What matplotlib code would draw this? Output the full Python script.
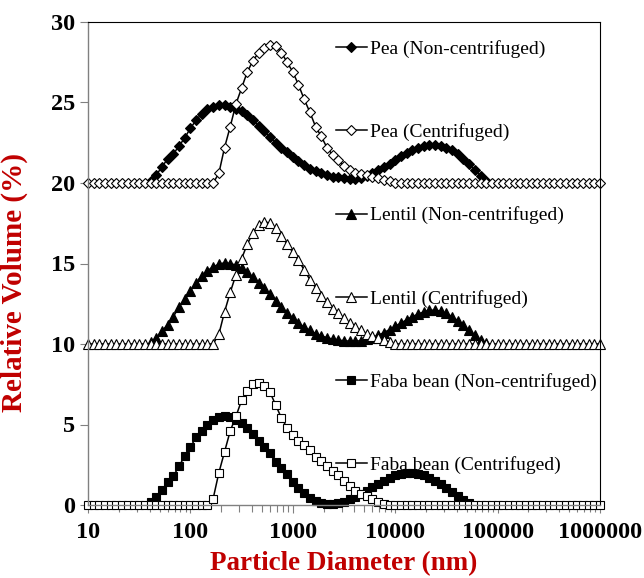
import numpy as np
import matplotlib
matplotlib.use("Agg")
from matplotlib import pyplot as plt

plt.rcParams['font.family'] = ['Liberation Serif', 'DejaVu Serif']

nan = np.nan

# Particle size bins (nm), log spaced from 10 nm to 1 mm
diameter_nm = np.logspace(1, 6, 91)

# Relative volume (%) per bin (before vertical offset)
pea_nc = [nan, nan, nan, nan, nan, nan, nan, nan, nan, nan,
          nan, 0.1, 0.5, 1.0, 1.5, 1.8, 2.3, 2.8, 3.4, 3.9,
          4.3, 4.6, 4.75, 4.85, 4.85, 4.75, 4.6, 4.45, 4.2, 3.9,
          3.55, 3.2, 2.85, 2.5, 2.2, 1.9, 1.6, 1.35, 1.1, 0.9,
          0.75, 0.6, 0.5, 0.4, 0.35, 0.3, 0.25, 0.25, 0.3, 0.45,
          0.6, 0.8, 1.0, 1.2, 1.45, 1.65, 1.85, 2.05, 2.2, 2.3,
          2.35, 2.35, 2.3, 2.2, 2.05, 1.8, 1.5, 1.15, 0.8, 0.45,
          0.15, nan, nan, nan, nan, nan, nan, nan, nan, nan,
          nan, nan, nan, nan, nan, nan, nan, nan, nan, nan,
          nan]
pea_c = [0, 0, 0, 0, 0, 0, 0, 0, 0, 0,
         0, 0, 0, 0, 0, 0, 0, 0, 0, 0,
         0, 0, 0, 0.6, 2.2, 3.5, 4.9, 5.9, 6.9, 7.6,
         8.1, 8.4, 8.6, 8.5, 8.1, 7.5, 6.9, 6.1, 5.2, 4.4,
         3.5, 2.9, 2.2, 1.75, 1.4, 1.05, 0.8, 0.65, 0.55, 0.5,
         0.4, 0.3, 0.2, 0.1, 0, 0, 0, 0, 0, 0,
         0, 0, 0, 0, 0, 0, 0, 0, 0, 0,
         0, 0, 0, 0, 0, 0, 0, 0, 0, 0,
         0, 0, 0, 0, 0, 0, 0, 0, 0, 0,
         0]
lentil_nc = [nan, nan, nan, nan, nan, nan, nan, nan, nan, nan,
             nan, 0.1, 0.4, 0.8, 1.2, 1.7, 2.3, 2.8, 3.3, 3.8,
             4.25, 4.55, 4.8, 4.95, 5.05, 5.0, 4.9, 4.7, 4.45, 4.15,
             3.8, 3.45, 3.1, 2.7, 2.3, 1.95, 1.6, 1.3, 1.05, 0.85,
             0.65, 0.5, 0.4, 0.3, 0.25, 0.2, 0.18, 0.18, 0.2, 0.3,
             0.4, 0.55, 0.7, 0.9, 1.1, 1.3, 1.5, 1.7, 1.85, 2.0,
             2.1, 2.1, 2.05, 1.9, 1.7, 1.45, 1.15, 0.85, 0.55, 0.25,
             0.05, nan, nan, nan, nan, nan, nan, nan, nan, nan,
             nan, nan, nan, nan, nan, nan, nan, nan, nan, nan,
             nan]
lentil_c = [0, 0, 0, 0, 0, 0, 0, 0, 0, 0,
            0, 0, 0, 0, 0, 0, 0, 0, 0, 0,
            0, 0, 0, 0.6, 2.0, 3.2, 4.3, 5.3, 6.2, 6.9,
            7.4, 7.6, 7.5, 7.2, 6.7, 6.2, 5.7, 5.2, 4.6, 4.0,
            3.5, 3.0, 2.6, 2.2, 1.9, 1.6, 1.3, 1.05, 0.85, 0.65,
            0.5, 0.35, 0.25, 0.1, 0, 0, 0, 0, 0, 0,
            0, 0, 0, 0, 0, 0, 0, 0, 0, 0,
            0, 0, 0, 0, 0, 0, 0, 0, 0, 0,
            0, 0, 0, 0, 0, 0, 0, 0, 0, 0,
            0]
faba_nc = [nan, nan, nan, nan, nan, nan, nan, nan, nan, nan,
           nan, 0.2, 0.5, 0.95, 1.4, 1.8, 2.4, 3.05, 3.6, 4.2,
           4.6, 5.0, 5.3, 5.45, 5.5, 5.45, 5.3, 5.1, 4.8, 4.4,
           4.0, 3.6, 3.2, 2.7, 2.3, 1.9, 1.45, 1.05, 0.75, 0.45,
           0.25, 0.12, 0.08, 0.08, 0.12, 0.2, 0.35, 0.5, 0.7, 0.9,
           1.1, 1.3, 1.5, 1.7, 1.85, 1.95, 2.0, 2.0, 1.95, 1.85,
           1.7, 1.5, 1.3, 1.05, 0.8, 0.55, 0.3, 0.1, nan, nan,
           nan, nan, nan, nan, nan, nan, nan, nan, nan, nan,
           nan, nan, nan, nan, nan, nan, nan, nan, nan, nan,
           nan]
faba_c = [0, 0, 0, 0, 0, 0, 0, 0, 0, 0,
          0, 0, 0, 0, 0, 0, 0, 0, 0, 0,
          0, 0, 0.4, 2.0, 3.3, 4.6, 5.5, 6.5, 7.1, 7.5,
          7.55, 7.4, 7.0, 6.2, 5.4, 4.8, 4.35, 4.0, 3.7, 3.4,
          3.0, 2.75, 2.4, 2.1, 1.85, 1.5, 1.2, 0.9, 0.7, 0.55,
          0.35, 0.2, 0.05, 0, 0, 0, 0, 0, 0, 0,
          0, 0, 0, 0, 0, 0, 0, 0, 0, 0,
          0, 0, 0, 0, 0, 0, 0, 0, 0, 0,
          0, 0, 0, 0, 0, 0, 0, 0, 0, 0,
          0]

labels = ["Pea (Non-centrifuged)", "Pea (Centrifuged)",
          "Lentil (Non-centrifuged)", "Lentil (Centrifuged)",
          "Faba bean (Non-centrifuged)", "Faba bean (Centrifuged)"]
series = [pea_nc, pea_c, lentil_nc, lentil_c, faba_nc, faba_c]
offsets = [20, 20, 10, 10, 0, 0]
markers = ['D', 'D', '^', '^', 's', 's']
msizes = [5.5, 5.5, 6.5, 6.5, 5.2, 5.2]
faces = ['black', 'white', 'black', 'white', 'black', 'white']

fig = plt.figure(figsize=(6.44, 5.78), dpi=100)
ax = fig.add_axes([88 / 644, 1 - 505 / 578, 512 / 644, 483 / 578])

for vals, off, lab, m, ms, fc in zip(series, offsets, labels, markers, msizes, faces):
    y = np.array(vals, dtype=float) + off
    ax.plot(diameter_nm, y, color='black', lw=1.1, marker=m, ms=ms,
            mfc=fc, mec='black', mew=0.8, label=lab, clip_on=False)

ax.set_xscale('log')
ax.set_xlim(10, 1000000)
ax.set_ylim(0, 30)
ax.set_yticks([0, 5, 10, 15, 20, 25, 30])
ax.set_xticks([10, 100, 1000, 10000, 100000, 1000000])
ax.set_xticklabels(['10', '100', '1000', '10000', '100000', '1000000'])

for lab in ax.get_xticklabels() + ax.get_yticklabels():
    lab.set_fontweight('bold')
    lab.set_fontsize(17.5)

ax.tick_params(axis='both', which='major', direction='out', length=6, width=0.8, color='#808080', pad=3)
ax.tick_params(axis='x', which='minor', direction='out', length=5, width=0.8, color='#808080')
ax.tick_params(axis='x', which='major', pad=6)

for side in ['left', 'bottom']:
    ax.spines[side].set_color('#808080')
    ax.spines[side].set_linewidth(1.0)
for side in ['top', 'right']:
    ax.spines[side].set_color('black')
    ax.spines[side].set_linewidth(0.8)

ax.set_xlabel('Particle Diameter (nm)', fontsize=19.5, fontweight='bold', color='#C00000', labelpad=6)
ax.set_ylabel('Relative Volume (%)', fontsize=21, fontweight='bold', color='#C00000', labelpad=6)
ax.yaxis.set_label_coords(-0.118, 0.46)

ax.legend(loc='upper left', bbox_to_anchor=(0.484, 0.962), frameon=False,
          fontsize=14, labelspacing=3.35, handlelength=1.6, handletextpad=0.15,
          borderpad=0, borderaxespad=0)

fig.savefig('out.png', dpi=100)
